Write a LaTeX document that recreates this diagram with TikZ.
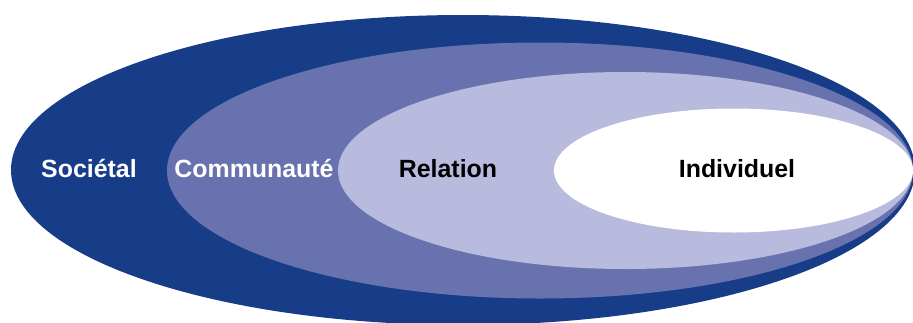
\documentclass[tikz,border=0pt]{standalone}
\usepackage{fontspec}
\setmainfont{Liberation Sans}
\usepackage{xcolor}
\usetikzlibrary{positioning}

\definecolor{societal}{RGB}{23,61,137}
\definecolor{communaute}{RGB}{104,114,174}
\definecolor{relation}{RGB}{184,187,221}

\begin{document}
\begin{tikzpicture}[
    x=1bp, y=-1bp,
    ringtext/.style={font=\bfseries\fontsize{25}{29}\selectfont, inner sep=0pt, anchor=base}
]
    \useasboundingbox (0,0) rectangle (913,322);
    \clip (0,0) rectangle (913,322);

    % nested rings
    \fill[societal]   (463,170) ellipse [x radius=452bp, y radius=155bp];
    \fill[communaute] (540,170.5) ellipse [x radius=373bp, y radius=128bp];
    \fill[relation]   (625.5,170.5) ellipse [x radius=287.5bp, y radius=98.5bp];
    \fill[white]      (733.5,170.5) ellipse [x radius=179.5bp, y radius=62bp];

    \node[ringtext, text=white] (soc)   at (89,177.5)  {Sociétal};
    \node[ringtext, text=white] (comm)  at (254,177.5) {Communauté};
    \node[ringtext, text=black] (rel)   at (448,177.5) {Relation};
    \node[ringtext, text=black] (indiv) at (737,177.5) {Individuel};
\end{tikzpicture}
\end{document}
